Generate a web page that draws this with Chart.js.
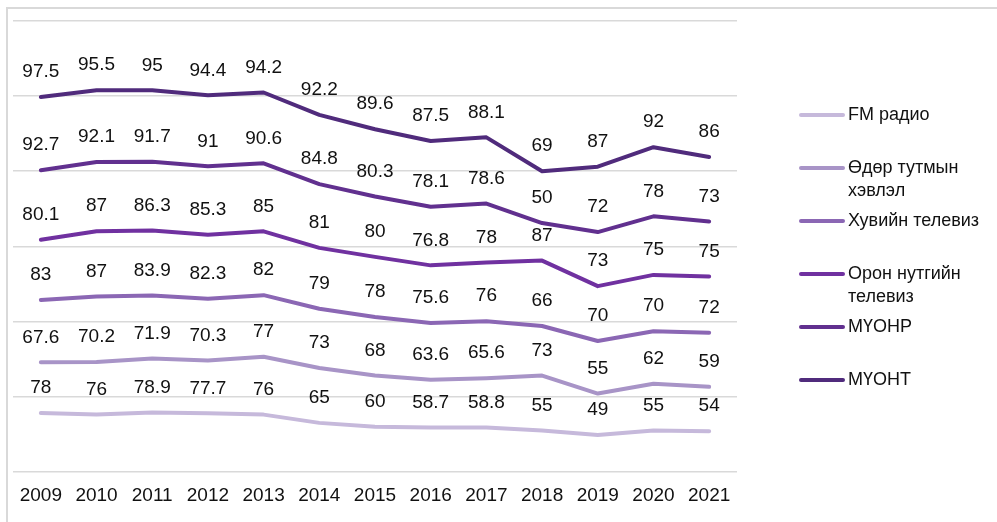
<!DOCTYPE html>
<html>
<head>
<meta charset="utf-8">
<script src="https://cdn.jsdelivr.net/npm/chart.js@4.4.0/dist/chart.umd.min.js"></script>
<style>
  html, body { margin: 0; padding: 0; background: #fff; }
  .frame { position: absolute; left: 6px; top: 7px; width: 1100px; height: 600px;
           border-left: 2px solid #d9d9d9; border-top: 2px solid #d9d9d9; }
  .wrap { position: absolute; left: 0; top: 0; width: 997px; height: 522px; }
</style>
</head>
<body>
<div class="frame"></div>
<div class="wrap"><canvas id="myChartLine"></canvas></div>
<script>
// data
const years = ["2009", "2010", "2011", "2012", "2013", "2014", "2015", "2016", "2017", "2018", "2019", "2020", "2021"];
const fmRadio = [78, 76, 78.9, 77.7, 76, 65, 60, 58.7, 58.8, 55, 49, 55, 54];
const dailyPress = [67.6, 70.2, 71.9, 70.3, 77, 73, 68, 63.6, 65.6, 73, 55, 62, 59];
const privateTv = [83, 87, 83.9, 82.3, 82, 79, 78, 75.6, 76, 66, 70, 70, 72];
const localTv = [80.1, 87, 86.3, 85.3, 85, 81, 80, 76.8, 78, 87, 73, 75, 75];
const mnbRadio = [92.7, 92.1, 91.7, 91, 90.6, 84.8, 80.3, 78.1, 78.6, 50, 72, 78, 73];
const mnbTv = [97.5, 95.5, 95, 94.4, 94.2, 92.2, 89.6, 87.5, 88.1, 69, 87, 92, 86];
const seriesNames = [
  ["FM радио"],
  ["Өдөр тутмын", "хэвлэл"],
  ["Хувийн телевиз"],
  ["Орон нутгийн", "телевиз"],
  ["МҮОНР"],
  ["МҮОНТ"],
];
const colors = ["#c6b9db", "#a894c7", "#8b67b4", "#7031a0", "#61308f", "#502b7c"];

const FONT = "'Liberation Sans', Arial, sans-serif";

// data labels above each point
const valueLabels = {
  id: "valueLabels",
  afterDatasetsDraw(chart) {
    const c = chart.ctx;
    c.save();
    c.font = "19px " + FONT;
    c.fillStyle = "#111";
    c.textAlign = "center";
    c.textBaseline = "middle";
    chart.data.datasets.forEach((ds, i) => {
      chart.getDatasetMeta(i).data.forEach((pt, j) => {
        c.fillText(String(ds.data[j]), pt.x, pt.y - 25);
      });
    });
    c.restore();
  },
};

// legend on the right
const sideLegend = {
  id: "sideLegend",
  afterDraw(chart) {
    const c = chart.ctx;
    c.save();
    c.font = "18px " + FONT;
    c.textBaseline = "middle";
    c.textAlign = "left";
    chart.data.datasets.forEach((ds, i) => {
      const y = 115 + i * 53;
      c.strokeStyle = ds.borderColor;
      c.lineWidth = 4;
      c.lineCap = "round";
      c.beginPath();
      c.moveTo(801, y);
      c.lineTo(843, y);
      c.stroke();
      c.fillStyle = "#111";
      seriesNames[i].forEach((line, k) => {
        c.fillText(line, 848, y + k * 23);
      });
    });
    c.restore();
  },
};

const ctx = document.getElementById("myChartLine");

const lineChart = new Chart(ctx, {
  type: "line",
  data: {
    labels: years,
    datasets: [fmRadio, dailyPress, privateTv, localTv, mnbRadio, mnbTv].map((d, i) => ({
      label: seriesNames[i].join(" "),
      data: d,
      borderColor: colors[i],
      backgroundColor: colors[i],
      borderWidth: 4,
      borderCapStyle: "round",
      borderJoinStyle: "round",
      pointRadius: 0,
      fill: false,
      tension: 0,
    })),
  },
  options: {
    responsive: true,
    maintainAspectRatio: false,
    animation: false,
    layout: {
      padding: { left: 13, right: 260, top: 21, bottom: 9.5 },
    },
    scales: {
      x: {
        offset: true,
        grid: { display: false },
        border: { display: false },
        ticks: {
          color: "#111",
          padding: 5,
          maxRotation: 0,
          font: { size: 19, family: FONT },
        },
      },
      y: {
        stacked: true,
        min: 0,
        max: 600,
        ticks: { display: false, stepSize: 100 },
        border: { display: false },
        grid: { color: "#d9d9d9", lineWidth: 1.5, drawTicks: false },
      },
    },
    plugins: {
      legend: { display: false },
      tooltip: { enabled: false },
    },
  },
  plugins: [valueLabels, sideLegend],
});
</script>
</body>
</html>
